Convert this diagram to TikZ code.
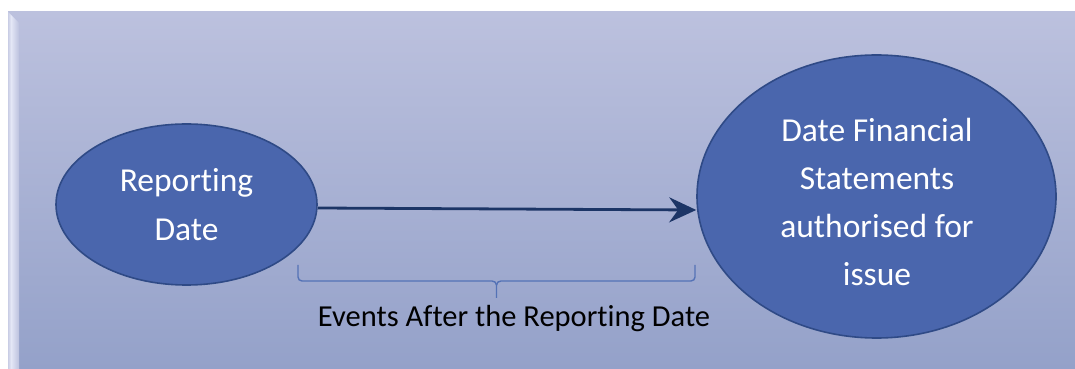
\documentclass[tikz,border=0pt]{standalone}
\usepackage{fontspec}
\setmainfont{Carlito}[Ligatures=NoCommon]
\usetikzlibrary{shapes.geometric,arrows.meta}
\definecolor{bgtop}{HTML}{BCC1DE}
\definecolor{bgbot}{HTML}{94A1C9}
\definecolor{ellfill}{HTML}{4A66AD}
\definecolor{elldraw}{HTML}{2F4A86}
\definecolor{arrowcol}{HTML}{1C3566}
\definecolor{bracecol}{HTML}{5472B6}
\definecolor{bevel}{HTML}{E4E7F6}
\tikzset{
  bubble/.style={ellipse, fill=ellfill, draw=elldraw, line width=1.6pt, inner sep=0pt},
  bubbletext/.style={text=white, align=center, font=\fontsize{33.5}{48.3}\selectfont},
  flow/.style={draw=arrowcol, line width=2.8pt, -{Stealth[length=27pt,width=25pt,inset=9pt]}},
  bracket/.style={draw=bracecol, line width=1.4pt},
  caption/.style={text=black, font=\fontsize{30.5}{36}\selectfont}
}
\begin{document}
\begin{tikzpicture}[x=1pt,y=1pt]
\useasboundingbox (0,0) rectangle (1075,369);
\fill[white] (0,0) rectangle (1075,369);
% background panel
\shade[top color=bgtop, bottom color=bgbot] (8,0) rectangle (1075,357);
% left bevel
\shade[left color=bgtop!80!white, right color=bevel] (8,0) -- (8,357) -- (11,354) -- (11,0) -- cycle;
\shade[left color=bevel, right color=bgtop] (11,0) -- (11,354) -- (19,346) -- (19,0) -- cycle;
% ellipses
\node[bubble, minimum width=261pt, minimum height=161pt] (rd) at (186.5,164.5)
  [bubbletext] {Reporting\\Date};
\node[bubble, minimum width=359pt, minimum height=283pt] (fs) at (876.5,172.5) {};
\node[bubbletext] (fstext) at (877,167) {Date Financial\\Statements\\authorised for\\issue};
% arrow
\draw[flow] ([yshift=-3.5pt]rd.east) -- ([yshift=-13.5pt]fs.west);
% bracket
\coordinate (bl) at (298,104);
\coordinate (br) at (695,104);
\coordinate (bm) at (496.5,71);
\draw[bracket] (bl) -- (298,92) to[out=-90,in=180] (302,88) -- (492,88)
  to[out=0,in=90] (bm |- 0,84) -- (bm);
\draw[bracket] (br) -- (695,92) to[out=-90,in=0] (691,88) -- (501,88)
  to[out=180,in=90] (bm |- 0,84);
\node[caption, anchor=base] (ev) at (514,42) {Events After the Reporting Date};
\end{tikzpicture}
\end{document}
